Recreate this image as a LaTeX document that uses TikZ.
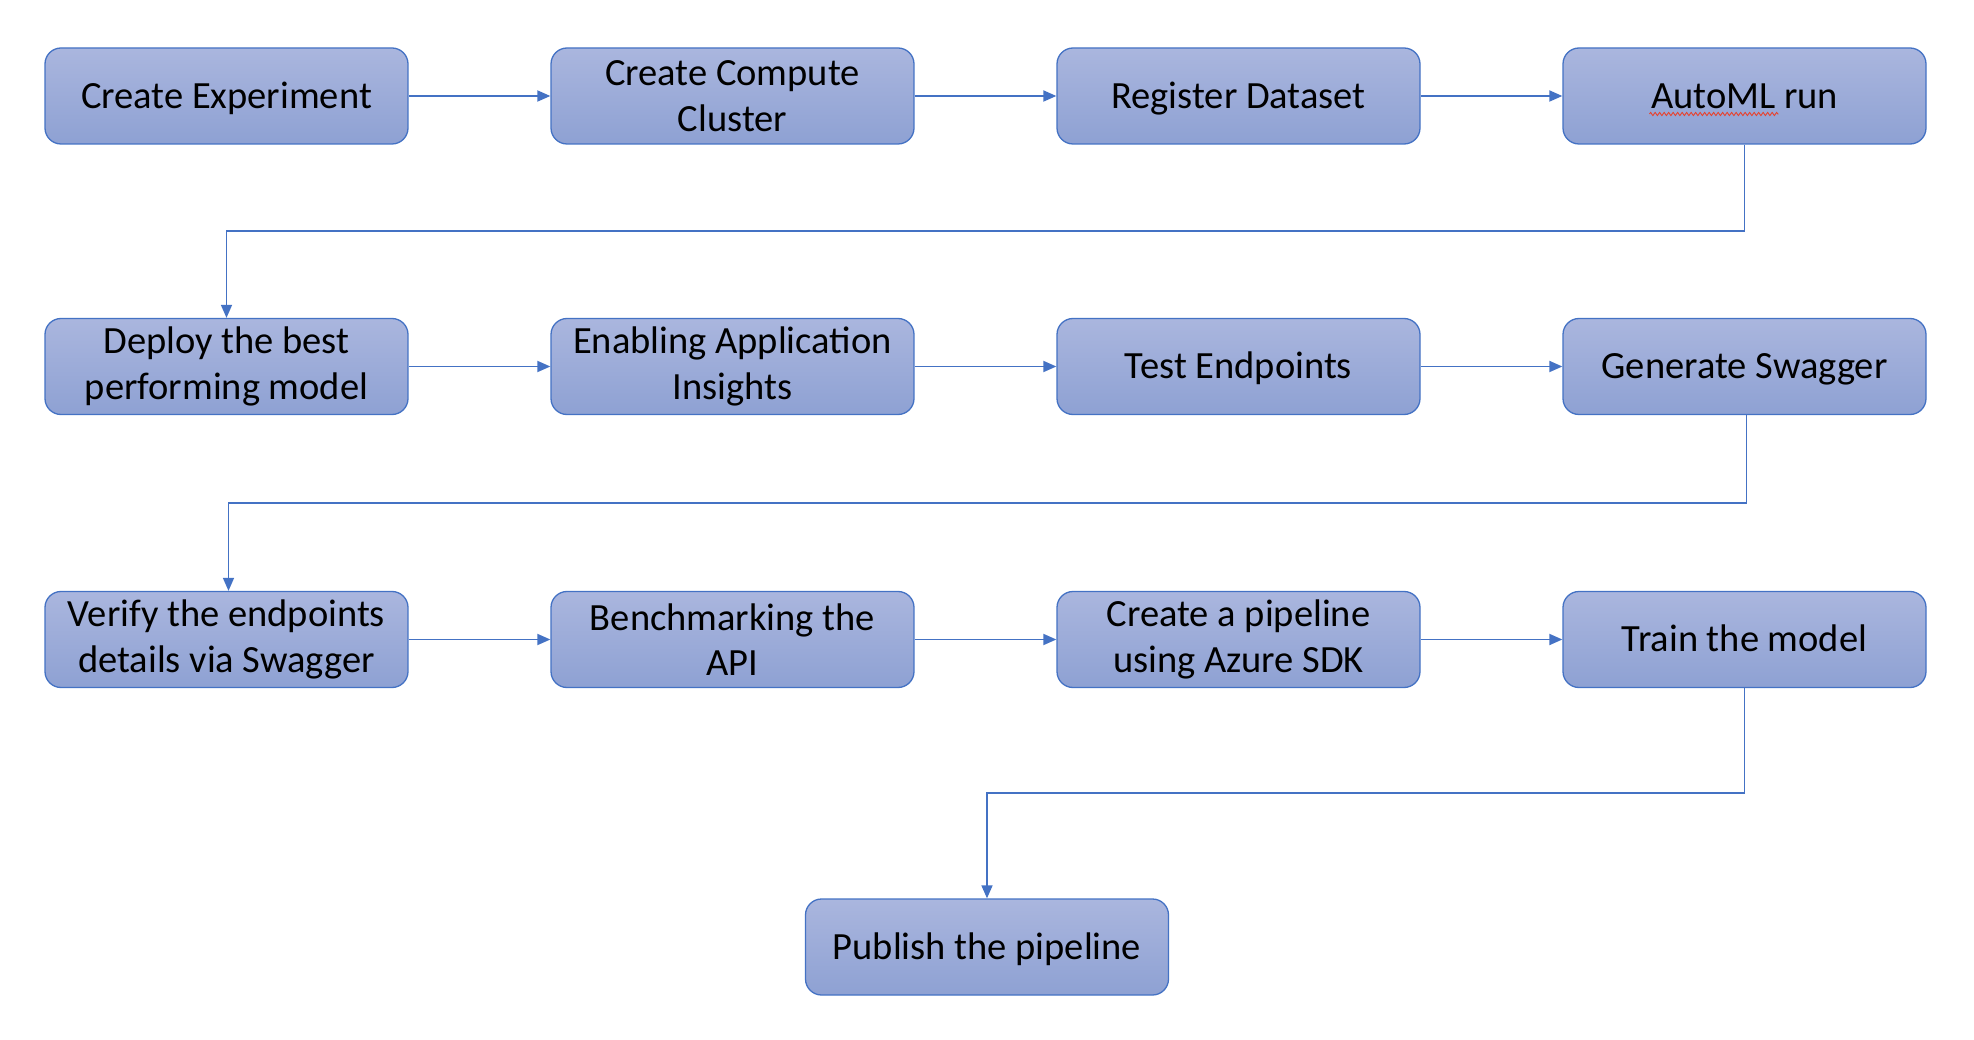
\documentclass[tikz,border=0pt]{standalone}
\usepackage{fontspec}
\setmainfont{Carlito}
\usetikzlibrary{arrows.meta,decorations.pathmorphing,calc}
\definecolor{bordercol}{HTML}{4472C4}
\definecolor{topc}{HTML}{AAB6DE}
\definecolor{botc}{HTML}{8EA1D3}
\definecolor{spell}{HTML}{E8412C}
\begin{document}
\begin{tikzpicture}[x=1pt,y=-1pt,
  stepbox/.style={draw=bordercol, line width=1.3pt, rounded corners=16pt,
    minimum width=363pt, minimum height=96pt, top color=topc, bottom color=botc,
    align=center, text=black, inner sep=0pt,
    font=\fontsize{38.5}{45.5}\selectfont},
  oneline/.style={text height=32pt, text depth=7.4pt},
  conn/.style={draw=bordercol, line width=1.8pt, -{Triangle[length=13pt,width=11pt]}},
  elbow/.style={draw=bordercol, line width=1.6pt, -{Triangle[length=13pt,width=11pt]}}]
\useasboundingbox (0,0) rectangle (1974,1040);
\fill[white] (0,0) rectangle (1974,1040);
% row 1
\node[stepbox,oneline] (exp) at (226.5,96) {Create Experiment};
\node[stepbox] (cc) at (732.5,96) {Create Compute\\Cluster};
\node[stepbox,oneline] (rd) at (1238.5,96) {Register Dataset};
\node[stepbox,oneline] (automl) at (1744.5,96) {AutoML run};
% row 2
\node[stepbox] (deploy) at (226.5,366.5) {Deploy the best\\performing model};
\node[stepbox] (ai) at (732.5,366.5) {Enabling Application\\Insights};
\node[stepbox,oneline] (te) at (1238.5,366.5) {Test Endpoints};
\node[stepbox,oneline] (gs) at (1744.5,366.5) {Generate Swagger};
% row 3
\node[stepbox] (verify) at (226.5,639.5) {Verify the endpoints\\details via Swagger};
\node[stepbox] (bench) at (732.5,639.5) {Benchmarking the\\API};
\node[stepbox] (pipe) at (1238.5,639.5) {Create a pipeline\\using Azure SDK};
\node[stepbox,oneline] (train) at (1744.5,639.5) {Train the model};
% row 4
\node[stepbox,oneline] (pub) at (987,947) {Publish the pipeline};
% spell-check underline
\draw[spell, line width=0.9pt, decorate, decoration={zigzag, amplitude=1.6pt, segment length=4.5pt}]
  ($(automl.center)+(-95,18)$) -- ($(automl.center)+(34,18)$);
% horizontal arrows
\draw[conn] (exp) -- (cc);
\draw[conn] (cc) -- (rd);
\draw[conn] (rd) -- (automl);
\draw[conn] (deploy) -- (ai);
\draw[conn] (ai) -- (te);
\draw[conn] (te) -- (gs);
\draw[conn] (verify) -- (bench);
\draw[conn] (bench) -- (pipe);
\draw[conn] (pipe) -- (train);
% elbow connectors
\coordinate (h1) at (0,231);
\coordinate (h2) at (0,503);
\coordinate (h3) at (0,793);
\draw[elbow] (automl.south) -- (automl.south |- h1) -| (deploy.north);
\draw[elbow] ($(gs.south)+(2,0)$) -- ($(gs.south |- h2)+(2,0)$) -| ($(verify.north)+(2,0)$);
\draw[elbow] (train.south) -- (train.south |- h3) -| (pub.north);
\end{tikzpicture}
\end{document}
